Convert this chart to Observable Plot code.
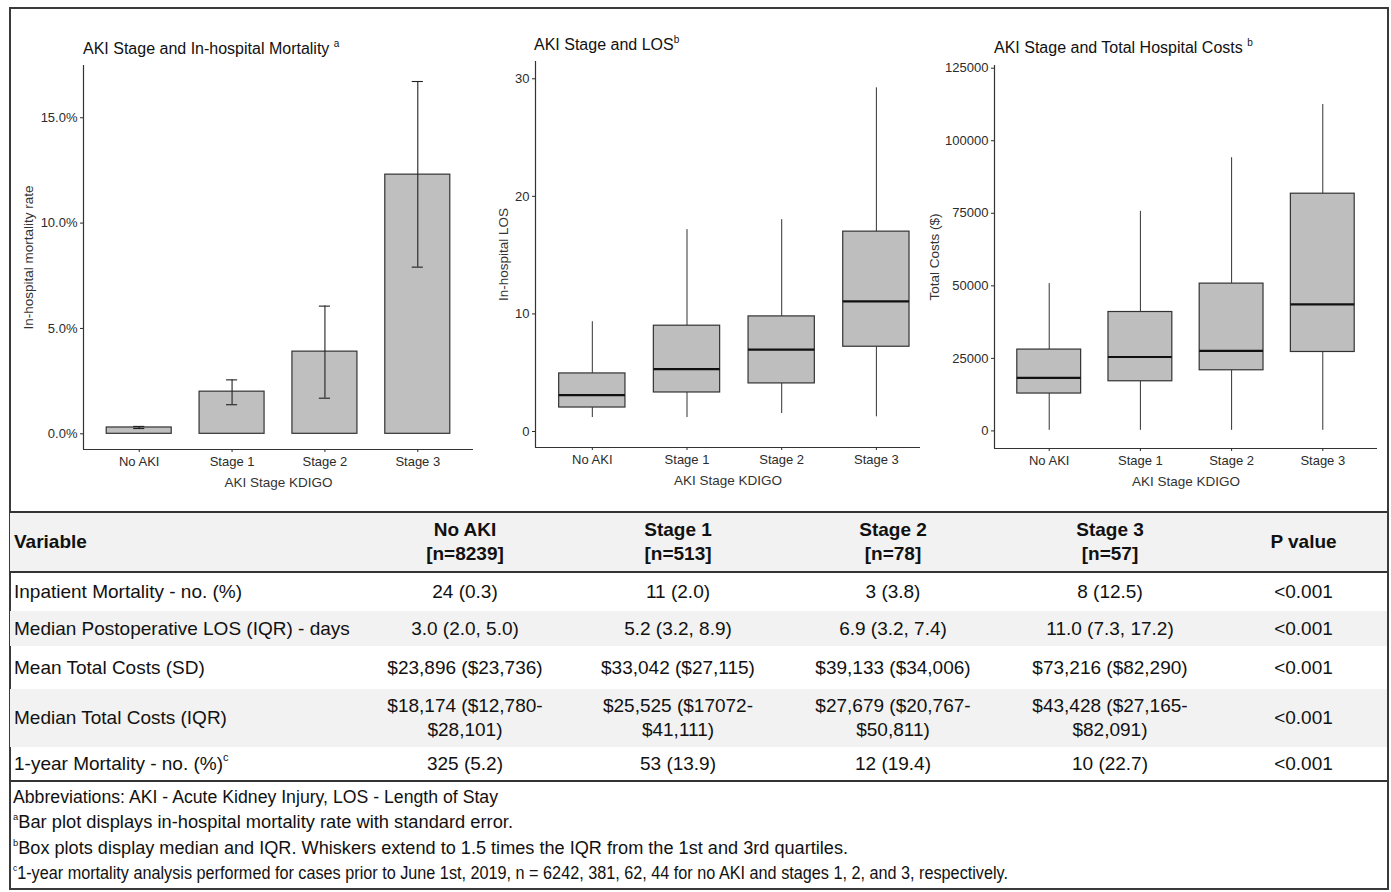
<!DOCTYPE html>
<html>
<head>
<meta charset="utf-8">
<script src="https://cdn.jsdelivr.net/npm/d3@7"></script>
<script src="https://cdn.jsdelivr.net/npm/@observablehq/plot@0.6"></script>
<style>
  body { margin: 0; background: #fff; font-family: "Liberation Sans", Arial, sans-serif; color: #111; }
  #page { position: relative; width: 1391px; height: 892px; overflow: hidden; background: #fff; }
  #frame { position: absolute; left: 9px; top: 7px; width: 1380px; height: 883px; border: 2px solid #3a3a3a; box-sizing: border-box; }
  .chart { position: absolute; top: 10px; }
  .ttl { position: absolute; font-size: 16px; line-height: 16px; white-space: nowrap; color: #111; }
  .ttl sup { font-size: 10px; vertical-align: 7px; line-height: 0; }
  #tbl { position: absolute; left: 10px; top: 511px; width: 1377px; border-collapse: collapse; table-layout: fixed; font-size: 19px; line-height: 24px; color: #111; }
  #tbl td, #tbl th { padding: 0; text-align: center; vertical-align: middle; white-space: pre-line; }
  #tbl th { font-weight: bold; background: #f2f2f2; border-top: 2px solid #333; border-bottom: 2px solid #333; }
  #tbl td:first-child, #tbl th:first-child { text-align: left; padding-left: 4px; }
  #tbl tr.shade td { background: #f2f2f2; }
  #tbl tr.last td { border-bottom: 2px solid #333; }
  #tbl sup { font-size: 11px; vertical-align: 9px; line-height: 0; }
  .fn { position: absolute; left: 13px; font-size: 17.5px; line-height: 20px; white-space: nowrap; color: #111; transform-origin: 0 50%; }
  .fn sup { font-size: 9px; vertical-align: 8px; line-height: 0; }
</style>
</head>
<body>
<div id="page">
  <div id="frame"></div>
</div>
<script>
// ---------- data ----------
const categories = ["No AKI", "Stage 1", "Stage 2", "Stage 3"];

// in-hospital mortality (%), bar heights and standard-error limits
const mortalityRate = [0.3, 2.0, 3.9, 12.3];
const mortalitySeLow = [0.25, 1.38, 1.69, 7.91];
const mortalitySeHigh = [0.35, 2.56, 6.06, 16.72];
const mortalityTicks = [0, 5, 10, 15];

// LOS (days) box plots
const losLow = [1.19, 1.19, 1.53, 1.25];
const losQ1 = [2.04, 3.32, 4.09, 7.21];
const losMedian = [3.10, 5.31, 6.96, 11.07];
const losQ3 = [4.94, 9.0, 9.79, 17.0];
const losHigh = [9.34, 17.17, 18.02, 29.23];
const losTicks = [0, 10, 20, 30];

// Total costs ($) box plots
const costLow = [200, 200, 200, 200];
const costQ1 = [12880, 17110, 20900, 27200];
const costMedian = [18250, 25480, 27550, 43630];
const costQ3 = [28030, 40980, 50760, 81750];
const costHigh = [50760, 75660, 94150, 112500];
const costTicks = [0, 25000, 50000, 75000, 100000, 125000];

// titles
const chartTitles = ["AKI Stage and In-hospital Mortality", "AKI Stage and LOS", "AKI Stage and Total Hospital Costs"];
const chartTitleMarks = ["a", "b", "b"];
const yLabels = ["In-hospital mortality rate", "In-hospital LOS", "Total Costs ($)"];
const xLabel = "AKI Stage KDIGO";

// table
const tableColumns = ["Variable", "No AKI\n[n=8239]", "Stage 1\n[n=513]", "Stage 2\n[n=78]", "Stage 3\n[n=57]", "P value"];
const rowVariables = ["Inpatient Mortality - no. (%)", "Median Postoperative LOS (IQR) - days", "Mean Total Costs (SD)", "Median Total Costs (IQR)", "1-year Mortality - no. (%)"];
const rowMarkers = ["", "", "", "", "c"];
const colNoAKI = ["24 (0.3)", "3.0 (2.0, 5.0)", "$23,896 ($23,736)", "$18,174 ($12,780-\n$28,101)", "325 (5.2)"];
const colStage1 = ["11 (2.0)", "5.2 (3.2, 8.9)", "$33,042 ($27,115)", "$25,525 ($17072-\n$41,111)", "53 (13.9)"];
const colStage2 = ["3 (3.8)", "6.9 (3.2, 7.4)", "$39,133 ($34,006)", "$27,679 ($20,767-\n$50,811)", "12 (19.4)"];
const colStage3 = ["8 (12.5)", "11.0 (7.3, 17.2)", "$73,216 ($82,290)", "$43,428 ($27,165-\n$82,091)", "10 (22.7)"];
const colPValue = ["<0.001", "<0.001", "<0.001", "<0.001", "<0.001"];

// footnotes
const footnoteMarkers = ["", "a", "b", "c"];
const footnotes = [
  "Abbreviations: AKI - Acute Kidney Injury, LOS - Length of Stay",
  "Bar plot displays in-hospital mortality rate with standard error.",
  "Box plots display median and IQR. Whiskers extend to 1.5 times the IQR from the 1st and 3rd quartiles.",
  "1-year mortality analysis performed for cases prior to June 1st, 2019, n = 6242, 381, 62, 44 for no AKI and stages 1, 2, and 3, respectively."
];

// ---------- build ----------
const FONT = '"Liberation Sans", Arial, sans-serif';
const page = document.getElementById("page");
const HW = 0.35; // half box/bar width in category units

function panel({width, left, marginLeft, marginRight, marginTop, marginBottom, xMax, yDomain, yTicks, yFormat, yLabel, yLabelDx, marks}) {
  const svg = Plot.plot({
    width, height: 490, marginLeft, marginRight, marginTop, marginBottom,
    style: {fontFamily: FONT, fontSize: "13px", color: "#2b2b2b", background: "transparent", overflow: "visible"},
    x: {domain: [0.4, xMax]},
    y: {domain: yDomain},
    marks: [
      ...marks,
      Plot.ruleX([0.4], {stroke: "#333", strokeWidth: 1.2}),
      Plot.ruleY([yDomain[0]], {stroke: "#333", strokeWidth: 1.2}),
      Plot.axisX({ticks: [1, 2, 3, 4], tickFormat: i => categories[i - 1], tickSize: 3, tickPadding: 4, label: null, fontSize: 13}),
      Plot.axisY({ticks: yTicks, tickFormat: yFormat, tickSize: 3, tickPadding: 3, label: null, fontSize: 13}),
      Plot.text([yLabel], {text: d => d, frameAnchor: "left", dx: yLabelDx, rotate: -90, textAnchor: "middle", lineAnchor: "middle", fontSize: 13.5, fill: "#333"}),
      Plot.text([xLabel], {text: d => d, frameAnchor: "bottom", dy: 33, textAnchor: "middle", lineAnchor: "middle", fontSize: 13.5, fill: "#333"})
    ]
  });
  svg.classList.add("chart");
  svg.style.left = left + "px";
  page.appendChild(svg);
}

function boxMarks(data) {
  return [
    Plot.ruleX(data, {x: "pos", y1: "lo", y2: "q1", stroke: "#333", strokeWidth: 1}),
    Plot.ruleX(data, {x: "pos", y1: "q3", y2: "hi", stroke: "#333", strokeWidth: 1}),
    Plot.rect(data, {x1: d => d.pos - HW, x2: d => d.pos + HW, y1: "q1", y2: "q3", fill: "#bebebe", stroke: "#333", strokeWidth: 1.2}),
    Plot.ruleY(data, {y: "med", x1: d => d.pos - HW, x2: d => d.pos + HW, stroke: "#111", strokeWidth: 2.2})
  ];
}

// Chart 1: mortality bars
const mort = categories.map((c, k) => ({pos: k + 1, rate: mortalityRate[k], lo: mortalitySeLow[k], hi: mortalitySeHigh[k]}));
panel({
  width: 463, left: 12, marginLeft: 71, marginRight: 2, marginTop: 55, marginBottom: 51,
  xMax: 4.6, yDomain: [-0.745, 17.48], yTicks: mortalityTicks, yFormat: d => d.toFixed(1) + "%",
  yLabel: yLabels[0], yLabelDx: -55,
  marks: [
    Plot.rect(mort, {x1: d => d.pos - HW, x2: d => d.pos + HW, y1: () => 0, y2: "rate", fill: "#bfbfbf", stroke: "#333", strokeWidth: 1.2}),
    Plot.ruleX(mort, {x: "pos", y1: "lo", y2: "hi", stroke: "#222", strokeWidth: 1.1}),
    Plot.ruleY(mort, {y: "hi", x1: d => d.pos - 0.06, x2: d => d.pos + 0.06, stroke: "#222", strokeWidth: 1.1}),
    Plot.ruleY(mort, {y: "lo", x1: d => d.pos - 0.06, x2: d => d.pos + 0.06, stroke: "#222", strokeWidth: 1.1})
  ]
});

// Chart 2: LOS
const los = categories.map((c, k) => ({pos: k + 1, lo: losLow[k], q1: losQ1[k], med: losMedian[k], q3: losQ3[k], hi: losHigh[k]}));
panel({
  width: 447, left: 478, marginLeft: 57, marginRight: 5, marginTop: 51, marginBottom: 53,
  xMax: 4.466, yDomain: [-1.36, 31.47], yTicks: losTicks, yFormat: d => String(d),
  yLabel: yLabels[1], yLabelDx: -32,
  marks: boxMarks(los)
});

// Chart 3: costs
const cost = categories.map((c, k) => ({pos: k + 1, lo: costLow[k], q1: costQ1[k], med: costMedian[k], q3: costQ3[k], hi: costHigh[k]}));
panel({
  width: 458, left: 928, marginLeft: 66, marginRight: 9, marginTop: 55, marginBottom: 52,
  xMax: 4.6, yDomain: [-6060, 125930], yTicks: costTicks, yFormat: d => String(d),
  yLabel: yLabels[2], yLabelDx: -60,
  marks: boxMarks(cost)
});

// titles
const titlePos = [[83, 41, " "], [534, 37, ""], [994, 40, " "]];
chartTitles.forEach((t, k) => {
  const d = document.createElement("div");
  d.className = "ttl";
  d.style.left = titlePos[k][0] + "px";
  d.style.top = titlePos[k][1] + "px";
  d.textContent = t + titlePos[k][2];
  const s = document.createElement("sup");
  s.textContent = chartTitleMarks[k];
  d.appendChild(s);
  page.appendChild(d);
});

// table
const table = document.createElement("table");
table.id = "tbl";
const colWidths = [350, 210, 216, 214, 220, 167];
const cg = document.createElement("colgroup");
colWidths.forEach(w => { const c = document.createElement("col"); c.style.width = w + "px"; cg.appendChild(c); });
table.appendChild(cg);
const hr = document.createElement("tr");
hr.style.height = "60px";
tableColumns.forEach(h => { const th = document.createElement("th"); th.textContent = h; hr.appendChild(th); });
table.appendChild(hr);
const rowHeights = [39, 35, 43, 58, 34];
rowVariables.forEach((v, r) => {
  const tr = document.createElement("tr");
  tr.style.height = rowHeights[r] + "px";
  if (r % 2 === 1) tr.className = "shade";
  if (r === rowVariables.length - 1) tr.className = "last";
  const td0 = document.createElement("td");
  td0.textContent = v;
  if (rowMarkers[r]) { const s = document.createElement("sup"); s.textContent = rowMarkers[r]; td0.appendChild(s); }
  tr.appendChild(td0);
  [colNoAKI, colStage1, colStage2, colStage3, colPValue].forEach(col => {
    const td = document.createElement("td");
    td.textContent = col[r];
    tr.appendChild(td);
  });
  table.appendChild(tr);
});
page.appendChild(table);

// footnotes (each line fitted to the width it occupies in the figure)
const fnCenters = [797, 822, 848, 873];
const fnWidths = [485, 500, 835, 995];
footnotes.forEach((t, k) => {
  const d = document.createElement("div");
  d.className = "fn";
  d.style.top = (fnCenters[k] - 10) + "px";
  if (footnoteMarkers[k]) { const s = document.createElement("sup"); s.textContent = footnoteMarkers[k]; d.appendChild(s); }
  d.appendChild(document.createTextNode(t));
  page.appendChild(d);
  const w = d.getBoundingClientRect().width;
  if (w > 0) d.style.transform = `scaleX(${fnWidths[k] / w})`;
});
</script>
</body>
</html>
